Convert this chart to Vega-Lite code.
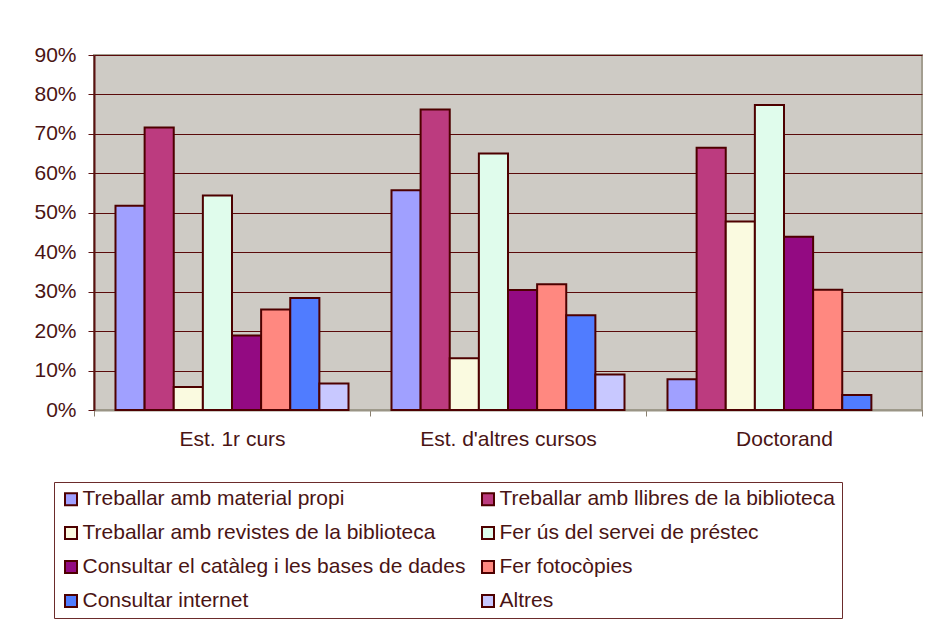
{
  "$schema": "https://vega.github.io/schema/vega-lite/v6.json",
  "width": 828,
  "height": 355,
  "autosize": "none",
  "padding": {"left": 94, "top": 55, "right": 8, "bottom": 209},
  "background": "white",
  "data": {
    "values": [
      {"grup": "Est. 1r curs", "activitat": "Treballar amb material propi", "pct": 51.8},
      {"grup": "Est. 1r curs", "activitat": "Treballar amb llibres de la biblioteca", "pct": 71.6},
      {"grup": "Est. 1r curs", "activitat": "Treballar amb revistes de la biblioteca", "pct": 5.8},
      {"grup": "Est. 1r curs", "activitat": "Fer ús del servei de préstec", "pct": 54.4},
      {"grup": "Est. 1r curs", "activitat": "Consultar el catàleg i les bases de dades", "pct": 18.9},
      {"grup": "Est. 1r curs", "activitat": "Fer fotocòpies", "pct": 25.5},
      {"grup": "Est. 1r curs", "activitat": "Consultar internet", "pct": 28.4},
      {"grup": "Est. 1r curs", "activitat": "Altres", "pct": 6.7},
      {"grup": "Est. d'altres cursos", "activitat": "Treballar amb material propi", "pct": 55.7},
      {"grup": "Est. d'altres cursos", "activitat": "Treballar amb llibres de la biblioteca", "pct": 76.2},
      {"grup": "Est. d'altres cursos", "activitat": "Treballar amb revistes de la biblioteca", "pct": 13.1},
      {"grup": "Est. d'altres cursos", "activitat": "Fer ús del servei de préstec", "pct": 65.0},
      {"grup": "Est. d'altres cursos", "activitat": "Consultar el catàleg i les bases de dades", "pct": 30.4},
      {"grup": "Est. d'altres cursos", "activitat": "Fer fotocòpies", "pct": 31.9},
      {"grup": "Est. d'altres cursos", "activitat": "Consultar internet", "pct": 24.0},
      {"grup": "Est. d'altres cursos", "activitat": "Altres", "pct": 9.0},
      {"grup": "Doctorand", "activitat": "Treballar amb material propi", "pct": 7.8},
      {"grup": "Doctorand", "activitat": "Treballar amb llibres de la biblioteca", "pct": 66.5},
      {"grup": "Doctorand", "activitat": "Treballar amb revistes de la biblioteca", "pct": 47.8},
      {"grup": "Doctorand", "activitat": "Fer ús del servei de préstec", "pct": 77.3},
      {"grup": "Doctorand", "activitat": "Consultar el catàleg i les bases de dades", "pct": 43.9},
      {"grup": "Doctorand", "activitat": "Fer fotocòpies", "pct": 30.5},
      {"grup": "Doctorand", "activitat": "Consultar internet", "pct": 3.8}
    ]
  },
  "mark": {"type": "bar", "stroke": "#4d0000", "strokeWidth": 2},
  "encoding": {
    "x": {
      "field": "grup",
      "type": "nominal",
      "sort": ["Est. 1r curs", "Est. d'altres cursos", "Doctorand"],
      "scale": {"paddingInner": 0, "paddingOuter": 0},
      "axis": {
        "title": null,
        "labelAngle": 0,
        "tickBand": "extent",
        "domainColor": "#9a9586",
        "domainWidth": 2,
        "tickColor": "#8a8070",
        "tickSize": 6,
        "labelPadding": 12,
        "labelFontSize": 21,
        "labelColor": "#4a1414",
        "labelFont": "Liberation Sans"
      }
    },
    "xOffset": {
      "field": "activitat",
      "type": "nominal",
      "sort": [
        "Treballar amb material propi",
        "Treballar amb llibres de la biblioteca",
        "Treballar amb revistes de la biblioteca",
        "Fer ús del servei de préstec",
        "Consultar el catàleg i les bases de dades",
        "Fer fotocòpies",
        "Consultar internet",
        "Altres"
      ],
      "scale": {"paddingInner": 0, "paddingOuter": 0.738}
    },
    "y": {
      "field": "pct",
      "type": "quantitative",
      "scale": {"domain": [0, 90], "nice": false},
      "axis": {
        "title": null,
        "values": [0, 10, 20, 30, 40, 50, 60, 70, 80, 90],
        "labelExpr": "datum.value + '%'",
        "grid": true,
        "gridColor": "#5a0a0a",
        "gridWidth": 1,
        "domainColor": "#5a1010",
        "domainWidth": 2,
        "tickColor": "#5a1010",
        "tickSize": 6,
        "labelPadding": 12,
        "labelFontSize": 21,
        "labelColor": "#4a1414",
        "labelFont": "Liberation Sans"
      }
    },
    "color": {
      "field": "activitat",
      "type": "nominal",
      "scale": {
        "domain": [
          "Treballar amb material propi",
          "Treballar amb revistes de la biblioteca",
          "Consultar el catàleg i les bases de dades",
          "Consultar internet",
          "Treballar amb llibres de la biblioteca",
          "Fer ús del servei de préstec",
          "Fer fotocòpies",
          "Altres"
        ],
        "range": ["#a0a0ff", "#fafae0", "#930a82", "#507cff", "#bc3b7f", "#e0fcec", "#ff8880", "#c8c8ff"]
      },
      "legend": {
        "title": null,
        "orient": "none",
        "legendX": -40,
        "legendY": 427,
        "columns": 2,
        "gridAlign": "all",
        "symbolType": "square",
        "symbolSize": 144,
        "symbolStrokeColor": "#4d0000",
        "symbolStrokeWidth": 2,
        "labelFontSize": 21,
        "labelFont": "Liberation Sans",
        "labelColor": "#4a1414",
        "labelLimit": 600,
        "labelOffset": 1,
        "columnPadding": 12,
        "rowPadding": 12,
        "padding": 6.5,
        "strokeColor": "#6b2b2b",
        "fillColor": "white"
      }
    }
  },
  "config": {
    "view": {"fill": "#cecbc5", "stroke": "#a39e90", "strokeWidth": 2},
    "font": "Liberation Sans"
  }
}
